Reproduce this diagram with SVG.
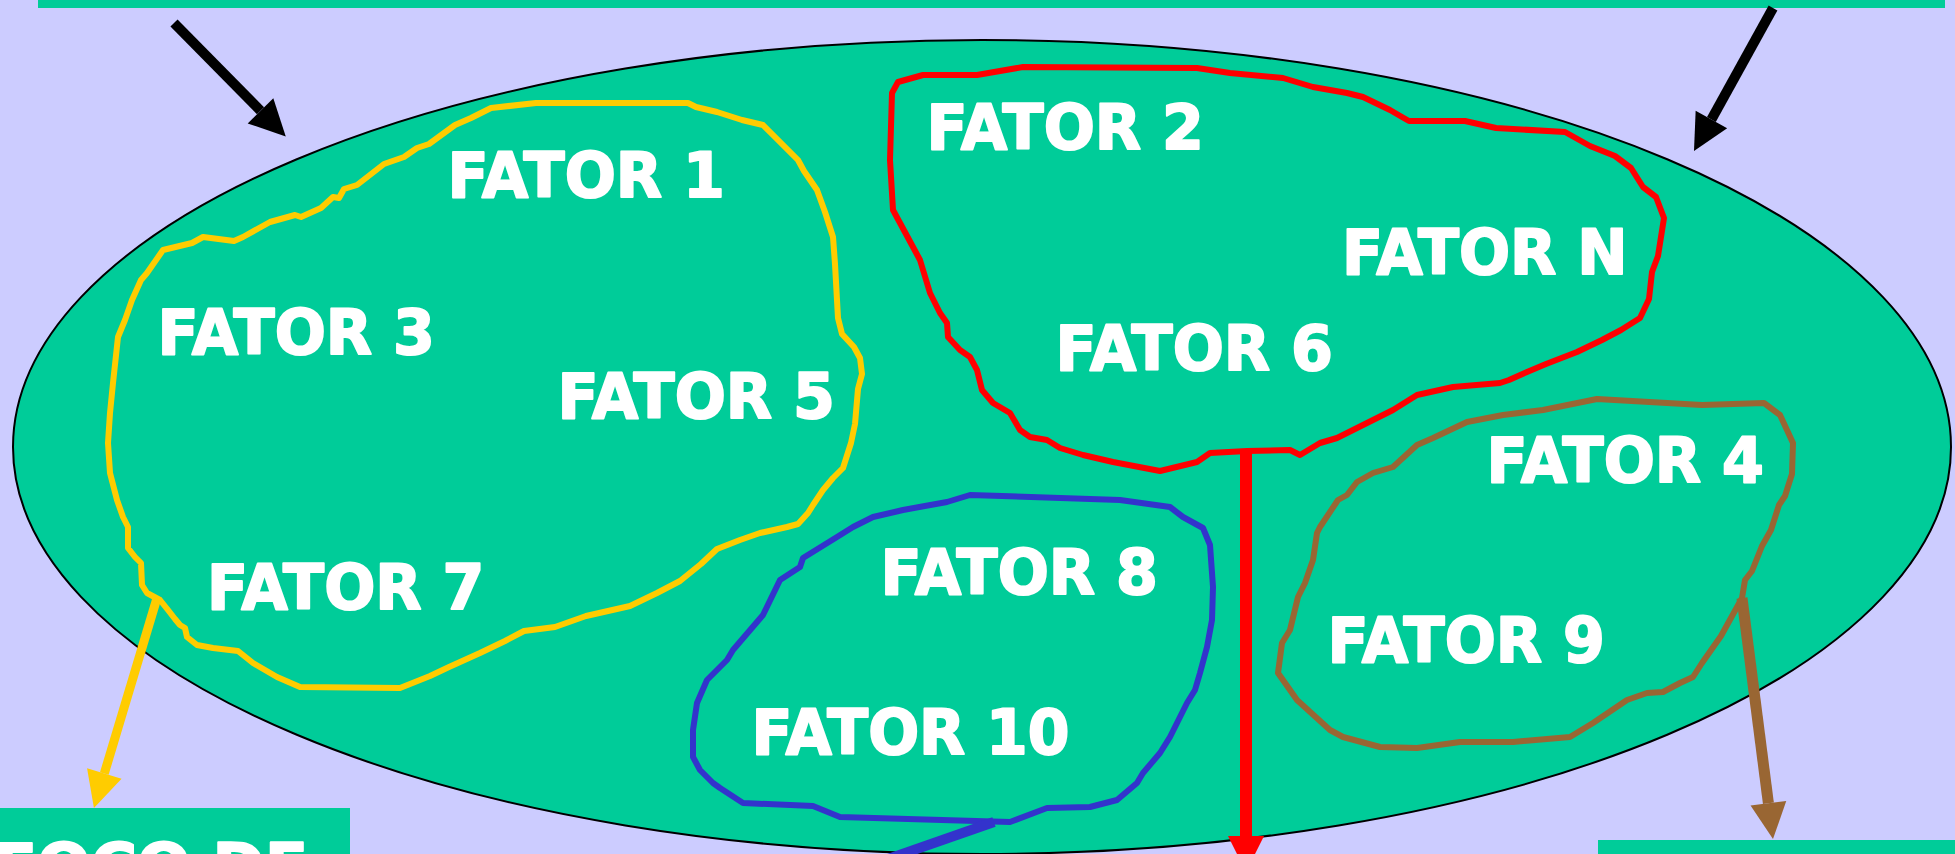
<svg xmlns="http://www.w3.org/2000/svg" width="1955" height="854" viewBox="0 0 1955 854">
  <style>
    .panel { fill: #00CC99; }
    .outline { fill: none; stroke-width: 6; stroke-linejoin: round; stroke-linecap: round; }
    .label { font-family: "DejaVu Sans", "Liberation Sans", sans-serif; font-weight: bold; font-size: 63px; fill: #FFFFFF; stroke: #FFFFFF; stroke-width: 2; stroke-linejoin: round; }
    .shaft { fill: none; stroke-linecap: butt; }
  </style>
  <defs>
    <marker id="head-black" markerUnits="userSpaceOnUse" markerWidth="38" markerHeight="38" refX="0" refY="18" orient="auto" overflow="visible">
      <path d="M0,0 L36,18 L0,36 Z" fill="#000000"/>
    </marker>
    <marker id="head-yellow" markerUnits="userSpaceOnUse" markerWidth="38" markerHeight="38" refX="0" refY="18" orient="auto" overflow="visible">
      <path d="M0,0 L36,18 L0,36 Z" fill="#FFCC00"/>
    </marker>
    <marker id="head-red" markerUnits="userSpaceOnUse" markerWidth="38" markerHeight="38" refX="0" refY="18" orient="auto" overflow="visible">
      <path d="M0,0 L36,18 L0,36 Z" fill="#FF0000"/>
    </marker>
    <marker id="head-blue" markerUnits="userSpaceOnUse" markerWidth="38" markerHeight="38" refX="0" refY="18" orient="auto" overflow="visible">
      <path d="M0,0 L36,18 L0,36 Z" fill="#3333CC"/>
    </marker>
    <marker id="head-brown" markerUnits="userSpaceOnUse" markerWidth="38" markerHeight="38" refX="0" refY="18" orient="auto" overflow="visible">
      <path d="M0,0 L36,18 L0,36 Z" fill="#996633"/>
    </marker>
  </defs>

  <!-- background -->
  <rect x="0" y="0" width="1955" height="854" fill="#CCCCFF"/>

  <!-- header strip -->
  <g id="top-bar">
    <rect class="panel" x="38" y="0" width="1907" height="8"/>
  </g>

  <!-- the big ellipse holding all factors -->
  <g id="universe">
    <ellipse cx="982" cy="447" rx="969" ry="407" fill="#00CC99" stroke="#000000" stroke-width="2"/>
  </g>

  <!-- factor clusters -->
  <g id="cluster-yellow">
    <path class="outline" stroke="#FFCC00" d="M108,443 L110,413 113,383 118,337 125,320 132,300 141,280 147,273 163,250 192,243 203,237 234,241 243,237 270,222 295,215 301,217 321,208 333,197 339,198 344,189 357,185 384,164 404,157 417,148 429,144 455,125 471,118 491,108 536,103 688,103 696,107 717,112 742,120 763,125 773,135 785,147 798,160 804,171 817,190 825,212 833,237 835,264 838,318 842,334 854,347 860,358 862,374 858,389 855,424 851,443 843,468 833,478 823,490 813,505 808,513 798,524 787,527 760,533 740,540 717,549 701,564 680,581 657,593 630,606 608,611 586,616 555,627 524,631 505,641 480,653 449,667 430,676 400,688 300,687 277,677 253,663 238,651 213,648 197,645 187,637 185,628 180,625 175,619 168,610 160,600 147,593 142,585 141,563 135,557 128,548 128,527 123,517 117,500 110,473 Z"/>
  </g>
  <g id="cluster-red">
    <path class="outline" stroke="#FF0000" d="M898,82 L923,75 977,75 1023,67 1197,68 1230,73 1283,78 1313,87 1347,93 1363,97 1390,110 1402,117 1409,121 1465,121 1496,128 1565,132 1590,146 1615,156 1631,168 1643,187 1656,197 1664,218 1658,256 1652,272 1649,299 1640,318 1621,330 1602,340 1577,352 1546,364 1527,372 1509,380 1500,383 1453,387 1417,395 1393,410 1367,423 1337,438 1320,443 1300,455 1290,450 1247,451 1210,453 1197,462 1160,471 1113,462 1083,455 1060,448 1047,440 1030,437 1020,430 1010,413 993,403 982,390 977,370 970,357 960,350 948,337 947,323 940,313 930,293 920,260 913,247 893,210 890,160 892,93 Z"/>
  </g>
  <g id="cluster-blue">
    <path class="outline" stroke="#3333CC" d="M803,558 L837,537 853,527 873,517 903,510 947,502 970,495 1120,500 1170,507 1183,517 1203,528 1210,545 1213,587 1212,620 1207,647 1200,673 1195,690 1187,703 1182,713 1170,737 1160,753 1143,773 1137,783 1117,800 1090,807 1047,808 1010,822 840,817 813,806 743,803 720,788 713,783 700,770 693,757 693,730 697,703 707,680 727,660 733,650 763,615 780,580 800,567 Z"/>
  </g>
  <g id="cluster-brown">
    <path class="outline" stroke="#996633" d="M1597,399 L1702,405 1764,403 1780,415 1793,443 1792,474 1785,496 1779,505 1771,530 1762,546 1752,571 1745,580 1742,598 1721,636 1702,663 1693,677 1680,683 1663,692 1647,693 1627,700 1593,723 1570,737 1513,742 1460,742 1417,748 1380,747 1343,737 1330,730 1297,700 1290,690 1278,673 1282,643 1290,630 1298,597 1305,583 1313,560 1317,533 1320,527 1338,500 1347,495 1357,482 1373,473 1393,467 1417,445 1433,438 1467,422 1503,415 1543,410 Z"/>
  </g>

  <!-- factor labels -->
  <g id="fator-1"><text class="label" x="447.5" y="197" textLength="277.5" lengthAdjust="spacingAndGlyphs">FATOR 1</text></g>
  <g id="fator-2"><text class="label" x="926.5" y="149" textLength="277.5" lengthAdjust="spacingAndGlyphs">FATOR 2</text></g>
  <g id="fator-n"><text class="label" x="1342" y="274" textLength="285.6" lengthAdjust="spacingAndGlyphs">FATOR N</text></g>
  <g id="fator-3"><text class="label" x="157.5" y="354" textLength="277.5" lengthAdjust="spacingAndGlyphs">FATOR 3</text></g>
  <g id="fator-6"><text class="label" x="1055.5" y="370" textLength="277.5" lengthAdjust="spacingAndGlyphs">FATOR 6</text></g>
  <g id="fator-5"><text class="label" x="557.5" y="418" textLength="277.5" lengthAdjust="spacingAndGlyphs">FATOR 5</text></g>
  <g id="fator-4"><text class="label" x="1486.5" y="482" textLength="277.5" lengthAdjust="spacingAndGlyphs">FATOR 4</text></g>
  <g id="fator-8"><text class="label" x="880.5" y="594" textLength="277.5" lengthAdjust="spacingAndGlyphs">FATOR 8</text></g>
  <g id="fator-7"><text class="label" x="207" y="609" textLength="277.5" lengthAdjust="spacingAndGlyphs">FATOR 7</text></g>
  <g id="fator-9"><text class="label" x="1327.5" y="662" textLength="277.5" lengthAdjust="spacingAndGlyphs">FATOR 9</text></g>
  <g id="fator-10"><text class="label" x="751.5" y="754" textLength="318" lengthAdjust="spacingAndGlyphs">FATOR 10</text></g>

  <!-- lower boxes -->
  <g id="box-foco">
    <rect class="panel" x="0" y="808" width="350" height="46"/>
    <text class="label" x="-6" y="888" textLength="314" lengthAdjust="spacingAndGlyphs">FOCO DE</text>
  </g>
  <g id="box-right">
    <rect class="panel" x="1598" y="840" width="357" height="14"/>
  </g>

  <!-- connectors -->
  <g id="connectors">
    <line class="shaft" x1="174" y1="23" x2="260.5" y2="110.8" stroke="#000000" stroke-width="10" marker-end="url(#head-black)"/>
    <line class="shaft" x1="1773" y1="8" x2="1711.4" y2="119.5" stroke="#000000" stroke-width="10" marker-end="url(#head-black)"/>
    <line class="shaft" x1="157" y1="598" x2="104.3" y2="773.5" stroke="#FFCC00" stroke-width="9" marker-end="url(#head-yellow)"/>
    <line class="shaft" x1="1246" y1="451" x2="1246" y2="836" stroke="#FF0000" stroke-width="12" marker-end="url(#head-red)"/>
    <line class="shaft" x1="994" y1="822" x2="845" y2="874" stroke="#3333CC" stroke-width="10" marker-end="url(#head-blue)"/>
    <line class="shaft" x1="1742" y1="598" x2="1768.4" y2="803.3" stroke="#996633" stroke-width="11" marker-end="url(#head-brown)"/>
  </g>
</svg>
